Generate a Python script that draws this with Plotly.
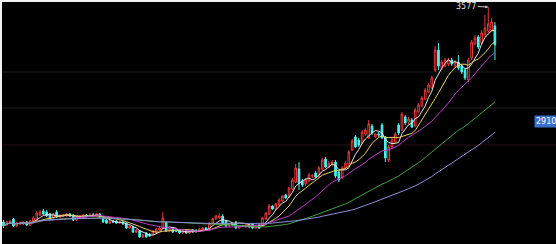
import plotly.graph_objects as go
import pandas as pd

# OHLC values (index points)
OPEN = [2319, 2302, 2313, 2337, 2296, 2308, 2308, 2319, 2302, 2325,
        2331, 2360, 2384, 2378, 2366, 2343, 2378, 2349, 2354, 2354,
        2366, 2360, 2331, 2349, 2349, 2360, 2354, 2360, 2354, 2366,
        2343, 2331, 2313, 2325, 2325, 2313, 2319, 2313, 2284, 2290,
        2261, 2267, 2232, 2255, 2249, 2249, 2261, 2272, 2284, 2319,
        2267, 2284, 2272, 2272, 2255, 2267, 2255, 2272, 2267, 2267,
        2272, 2284, 2278, 2313, 2337, 2343, 2354, 2325, 2296, 2308,
        2319, 2284, 2296, 2290, 2302, 2308, 2284, 2302, 2296, 2337,
        2366, 2413, 2395, 2419, 2442, 2477, 2466, 2512, 2553, 2629,
        2559, 2542, 2559, 2588, 2606, 2583, 2629, 2688, 2641, 2659,
        2670, 2612, 2577, 2635, 2659, 2740, 2817, 2799, 2781, 2834,
        2811, 2881, 2817, 2834, 2887, 2817, 2682, 2758, 2787, 2887,
        2857, 2934, 2904, 2916, 2881, 2963, 2998, 3039, 3080, 3103,
        3208, 3325, 3220, 3232, 3244, 3267, 3232, 3255, 3232, 3208,
        3150, 3279, 3361, 3402, 3366, 3413, 3437, 3442, 3466]
CLOSE = [2296, 2319, 2325, 2296, 2313, 2313, 2319, 2302, 2325, 2343,
         2372, 2378, 2366, 2354, 2337, 2366, 2349, 2360, 2360, 2366,
         2354, 2331, 2349, 2354, 2360, 2354, 2360, 2358, 2366, 2349,
         2319, 2313, 2325, 2319, 2313, 2319, 2308, 2284, 2296, 2261,
         2272, 2232, 2243, 2232, 2237, 2267, 2278, 2284, 2343, 2267,
         2278, 2261, 2267, 2255, 2267, 2255, 2267, 2261, 2265, 2278,
         2284, 2272, 2313, 2337, 2354, 2354, 2308, 2296, 2308, 2302,
         2284, 2296, 2294, 2302, 2290, 2284, 2296, 2284, 2343, 2372,
         2413, 2395, 2425, 2448, 2471, 2460, 2518, 2565, 2635, 2547,
         2536, 2565, 2594, 2590, 2583, 2635, 2682, 2641, 2664, 2670,
         2588, 2565, 2635, 2664, 2729, 2793, 2758, 2770, 2846, 2857,
         2893, 2840, 2834, 2828, 2811, 2694, 2758, 2799, 2834, 2840,
         2951, 2898, 2922, 2875, 2974, 3004, 3045, 3091, 3121, 3162,
         3325, 3232, 3255, 3267, 3267, 3244, 3255, 3220, 3197, 3162,
         3267, 3372, 3396, 3343, 3425, 3454, 3478, 3489, 3355]
HIGH = [2331, 2325, 2331, 2343, 2319, 2319, 2325, 2325, 2331, 2354,
        2384, 2389, 2395, 2389, 2372, 2372, 2389, 2366, 2366, 2372,
        2372, 2366, 2354, 2360, 2366, 2366, 2372, 2372, 2372, 2372,
        2349, 2337, 2331, 2331, 2331, 2325, 2325, 2319, 2302, 2296,
        2278, 2272, 2249, 2261, 2255, 2272, 2284, 2290, 2378, 2325,
        2284, 2290, 2278, 2278, 2272, 2272, 2272, 2278, 2278, 2284,
        2290, 2290, 2319, 2343, 2360, 2372, 2366, 2331, 2313, 2313,
        2325, 2302, 2302, 2308, 2308, 2313, 2302, 2308, 2349, 2378,
        2425, 2419, 2431, 2460, 2477, 2483, 2524, 2577, 2659, 2670,
        2571, 2577, 2606, 2600, 2618, 2647, 2694, 2700, 2676, 2682,
        2682, 2623, 2647, 2676, 2740, 2805, 2828, 2811, 2857, 2869,
        2916, 2893, 2840, 2846, 2898, 2822, 2770, 2811, 2846, 2898,
        2963, 2945, 2934, 2928, 2986, 3015, 3056, 3103, 3132, 3174,
        3349, 3366, 3267, 3279, 3279, 3279, 3267, 3296, 3244, 3220,
        3279, 3384, 3413, 3413, 3442, 3531, 3577, 3513, 3489]
LOW = [2284, 2296, 2308, 2290, 2290, 2302, 2302, 2296, 2296, 2319,
       2325, 2354, 2360, 2349, 2331, 2337, 2343, 2343, 2349, 2349,
       2349, 2325, 2325, 2343, 2343, 2349, 2349, 2349, 2349, 2343,
       2313, 2308, 2308, 2313, 2308, 2308, 2302, 2278, 2278, 2255,
       2255, 2226, 2226, 2226, 2232, 2243, 2255, 2267, 2278, 2261,
       2261, 2255, 2261, 2249, 2249, 2249, 2249, 2255, 2255, 2261,
       2267, 2267, 2272, 2308, 2331, 2337, 2302, 2290, 2290, 2296,
       2278, 2278, 2290, 2284, 2284, 2278, 2278, 2278, 2290, 2331,
       2360, 2389, 2389, 2413, 2436, 2454, 2460, 2506, 2547, 2506,
       2524, 2530, 2553, 2577, 2577, 2577, 2623, 2635, 2635, 2647,
       2577, 2553, 2571, 2629, 2653, 2735, 2752, 2758, 2776, 2822,
       2805, 2828, 2811, 2817, 2805, 2670, 2670, 2752, 2781, 2828,
       2852, 2887, 2893, 2869, 2875, 2957, 2992, 3033, 3074, 3097,
       3197, 3208, 3208, 3226, 3232, 3232, 3220, 3208, 3185, 3150,
       3138, 3267, 3355, 3331, 3355, 3402, 3425, 3431, 3267]

MA_WINDOWS = [5, 10, 20, 50, 75]
MA_COLORS = ["#e6e6e6", "#e6d26a", "#c040c8", "#3fa040", "#8f8fd8"]

PEAK_LABEL = "3577"
PRICE_TAG = "2910"
PRICE_TAG_VALUE = 2910
GRID_LEVELS = [3197, 2986, 2770]
GRID_COLORS = ["#1e1e1e", "#1e1e1e", "#2a0e14"]

idx = list(range(len(CLOSE)))
close_s = pd.Series(CLOSE)

fig = go.Figure()

for lvl, col in zip(GRID_LEVELS, GRID_COLORS):
    fig.add_hline(y=lvl, line=dict(color=col, width=1), layer="below")

for w, col in zip(MA_WINDOWS, MA_COLORS):
    ma = close_s.rolling(w, min_periods=1).mean()
    fig.add_trace(go.Scatter(x=idx, y=ma, mode="lines",
                             line=dict(color=col, width=1), hoverinfo="skip"))

fig.add_trace(go.Candlestick(
    x=idx, open=OPEN, high=HIGH, low=LOW, close=CLOSE,
    increasing=dict(line=dict(color="#f03838", width=1), fillcolor="#000000"),
    decreasing=dict(line=dict(color="#4ff0f0", width=1), fillcolor="#4ff0f0"),
    whiskerwidth=0,
))

peak_i = HIGH.index(max(HIGH))
fig.add_annotation(x=peak_i, y=max(HIGH), text=PEAK_LABEL, showarrow=True,
                   ax=-22, ay=-1, arrowhead=2, arrowsize=0.6, arrowwidth=1,
                   arrowcolor="#cfcfcf",
                   font=dict(size=8, color="#e0e0e0", family="DejaVu Sans"),
                   xanchor="center")

fig.add_annotation(x=0.961, xref="paper", y=PRICE_TAG_VALUE, yref="y",
                   text=PRICE_TAG, showarrow=False, xanchor="left",
                   bgcolor="#3a6fd0", borderpad=1,
                   font=dict(size=8, color="#ffffff", family="DejaVu Sans"))

fig.update_layout(
    width=556, height=244,
    margin=dict(l=2, r=0, t=2, b=0),
    paper_bgcolor="#f2f2f2",
    plot_bgcolor="#000000",
    showlegend=False,
    xaxis=dict(range=[-0.45, 166.4], visible=False, rangeslider=dict(visible=False),
               showgrid=False, fixedrange=True),
    yaxis=dict(range=[2190.6, 3606.3], visible=False, showgrid=False, fixedrange=True),
)

fig.write_html("out.html")
